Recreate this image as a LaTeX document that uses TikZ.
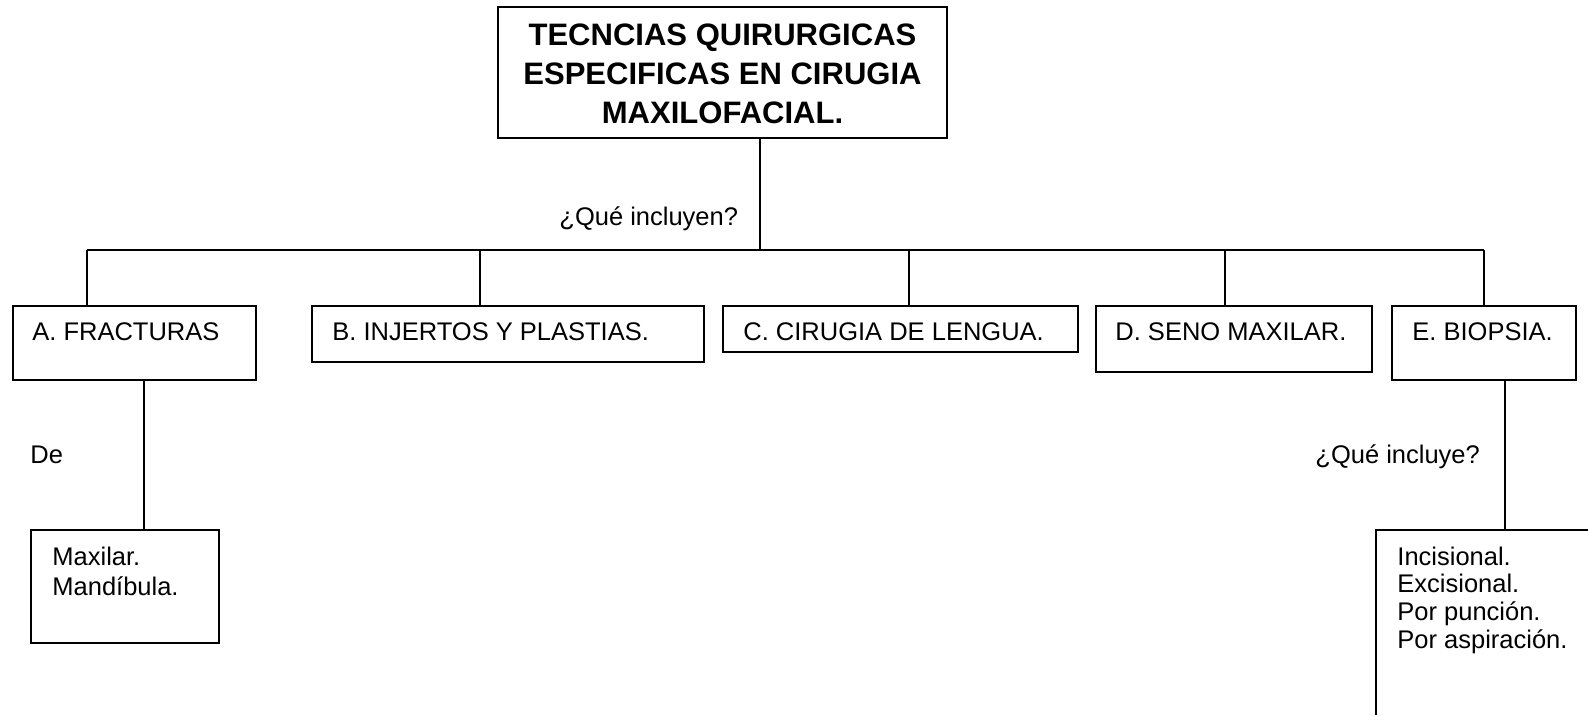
\documentclass[tikz,border=0pt]{standalone}
\usepackage{fontspec}
\setmainfont{Liberation Sans}
\def\px{0.4706pt}
\tikzset{
  box/.style={draw, line width=0.75pt, rectangle, inner sep=0pt, outer sep=0pt, anchor=north west},
  txt/.style={anchor=base west, inner sep=0pt, font=\fontsize{12}{14}\selectfont},
  ttl/.style={anchor=base, inner sep=0pt, font=\fontsize{14.6}{17}\selectfont\bfseries},
  link/.style={line width=0.75pt},
}
\begin{document}
\begin{tikzpicture}[x=\px, y=-\px]
\clip (0,0) rectangle (1588,715);
\fill[white] (0,0) rectangle (1588,715);
% boxes
\node[box, minimum width=449*\px, minimum height=131*\px] (title) at (498,7) {};
\node[box, minimum width=243*\px, minimum height=74*\px] (A) at (13,306) {};
\node[box, minimum width=392*\px, minimum height=56*\px] (B) at (312,306) {};
\node[box, minimum width=355*\px, minimum height=46*\px] (C) at (723,306) {};
\node[box, minimum width=276*\px, minimum height=66*\px] (D) at (1096,306) {};
\node[box, minimum width=184*\px, minimum height=74*\px] (E) at (1392,306) {};
\node[box, minimum width=188*\px, minimum height=113*\px] (Asub) at (31,530) {};
\node[box, minimum width=300*\px, minimum height=300*\px] (Esub) at (1376,530) {};
% title text
\node[ttl] (t1) at (722.5,45) {TECNCIAS QUIRURGICAS};
\node[ttl] (t2) at (722.5,84) {ESPECIFICAS EN CIRUGIA};
\node[ttl] (t3) at (722.5,123) {MAXILOFACIAL.};
% box texts
\node[txt] (tA) at (32,340) {A. FRACTURAS};
\node[txt] (tB) at (332,340) {B. INJERTOS Y PLASTIAS.};
\node[txt] (tC) at (743,340) {C. CIRUGIA DE LENGUA.};
\node[txt] (tD) at (1115,340) {D. SENO MAXILAR.};
\node[txt] (tE) at (1412,340) {E. BIOPSIA.};
\node[txt] (m1) at (52,565) {Maxilar.};
\node[txt] (m2) at (52,595) {Mandíbula.};
\node[txt] (e1) at (1397,565) {Incisional.};
\node[txt] (e2) at (1397,592.5) {Excisional.};
\node[txt] (e3) at (1397,620) {Por punción.};
\node[txt] (e4) at (1397,648) {Por aspiración.};
% labels
\node[txt] (q1) at (559,225) {¿Qué incluyen?};
\node[txt] (de) at (30,463) {De};
\node[txt] (q2) at (1315,463) {¿Qué incluye?};
% connectors
\coordinate (j) at (760,250);
\coordinate (hA) at (87,250);
\coordinate (hB) at (480,250);
\coordinate (hC) at (909,250);
\coordinate (hD) at (1225,250);
\coordinate (hE) at (1484,250);
\coordinate (vA) at (144,380);
\coordinate (vE) at (1505,380);
\draw[link] (title.south -| j) -- (j);
\draw[link] (hA) -- (hE);
\draw[link] (hA) -- (hA |- A.north);
\draw[link] (hB) -- (hB |- B.north);
\draw[link] (hC) -- (hC |- C.north);
\draw[link] (hD) -- (hD |- D.north);
\draw[link] (hE) -- (hE |- E.north);
\draw[link] (vA |- A.south) -- (vA |- Asub.north);
\draw[link] (vE |- E.south) -- (vE |- Esub.north);
\end{tikzpicture}
\end{document}
